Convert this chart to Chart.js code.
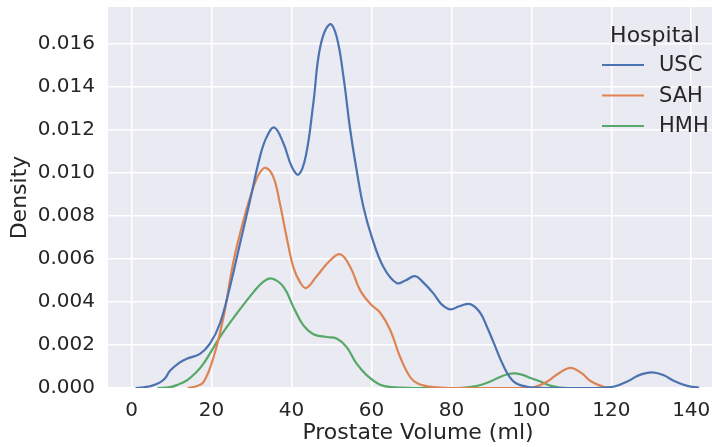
<!DOCTYPE html>
<html>
<head>
<meta charset="utf-8">
<script src="https://cdn.jsdelivr.net/npm/chart.js"></script>
<style>
  html, body { margin: 0; padding: 0; background: #fff; overflow: hidden; }
  #chart-wrapper { width: 728px; height: 447px; }
</style>
</head>
<body>
<div id="chart-wrapper">
  <canvas id="my-chart" width="728" height="447"></canvas>
</div>
<script>
// series: [volume (ml), density]
const hospitals = ['USC', 'SAH', 'HMH'];
const colors = ['#4c72b0', '#dd8452', '#55a868'];

const usc = [
  [1, 0], [3, 0.00003], [5, 0.0001], [7, 0.00025], [8.5, 0.00048], [9.6, 0.0008],
  [12, 0.00118], [13.8, 0.00136], [17.1, 0.00159], [19.6, 0.00206], [22.1, 0.003],
  [24.6, 0.0047], [27.1, 0.0067], [29.6, 0.0087], [32.1, 0.01075], [33.8, 0.01168],
  [35.7, 0.01212], [38, 0.01137], [40.1, 0.01028], [41.8, 0.00993], [43.6, 0.0108],
  [45.5, 0.0133], [47.2, 0.01587], [49.6, 0.01692], [51.3, 0.01634], [53, 0.01448],
  [54.7, 0.012], [56.3, 0.01013], [58, 0.00842], [60.1, 0.00702], [63, 0.00563],
  [66.3, 0.00488], [68.5, 0.005], [70.9, 0.0052], [73, 0.0049], [75.5, 0.0044],
  [77.5, 0.0039], [79.7, 0.00366], [82, 0.0038], [84.7, 0.0039], [87.2, 0.0035],
  [89, 0.0028], [90.6, 0.0021], [93.1, 0.001], [95.6, 0.0003], [98.9, 0.00006],
  [102, 0.00001], [108, 0], [116, 0], [118.5, 0.00002], [121, 0.00008],
  [124, 0.0003], [127, 0.0006], [130.2, 0.00073], [133, 0.0006], [136, 0.0003],
  [139, 0.0001], [142, 0.00001]
];

const sah = [
  [14, 0], [16, 0.00007], [18, 0.00027], [20.5, 0.00143], [23, 0.0033], [25.5, 0.0059],
  [28, 0.0078], [30.5, 0.00935], [32, 0.01], [33.6, 0.01024], [35.5, 0.0098],
  [37.1, 0.00858], [38.8, 0.007], [40.5, 0.0056], [42.2, 0.0049], [43.7, 0.00465],
  [46.3, 0.0052], [49.7, 0.00594], [52.2, 0.00622], [54.7, 0.00563], [57.2, 0.00454],
  [59.7, 0.00392], [62.2, 0.0035], [64.7, 0.0027], [67.2, 0.00143], [69.7, 0.0005],
  [71.7, 0.0002], [75.5, 0.00004], [80, 0], [98, 0], [101, 0.00005], [104, 0.0003],
  [107, 0.0007], [109.8, 0.00094], [112.5, 0.0007], [115, 0.0003], [118, 0.00006],
  [120, 0]
];

const hmh = [
  [6.5, 0], [9.6, 0.00004], [11.5, 0.00015], [13.8, 0.00035], [16, 0.0007],
  [18, 0.00113], [22.1, 0.00237], [26.3, 0.00346], [30.5, 0.00446], [33, 0.00495],
  [35.1, 0.00509], [38, 0.0047], [40.5, 0.00376], [43, 0.00291], [45.5, 0.0025],
  [48.8, 0.00237], [51.3, 0.0023], [53.8, 0.0019], [56.3, 0.00113], [58.8, 0.0006],
  [62.2, 0.00015], [65, 0.00004], [70, 0], [82, 0], [85, 0.00005], [87.5, 0.00015],
  [89.7, 0.0003], [92, 0.0005], [94, 0.00064], [96, 0.00068], [98, 0.0006],
  [100, 0.00045], [102.3, 0.0003], [104.5, 0.00012], [107.3, 0.00002], [109, 0]
];

const xTicks = [0, 20, 40, 60, 80, 100, 120, 140];
const yTicks = [0, 0.002, 0.004, 0.006, 0.008, 0.010, 0.012, 0.014, 0.016];

const textColor = '#262626';
const font = 'DejaVu Sans';

function toPoints(arr) {
  return arr.map(function(p) { return {x: p[0], y: p[1]}; });
}

// seaborn style grey background behind the plot
const bgPlugin = {
  id: 'bg',
  beforeDraw: function(chart) {
    const a = chart.chartArea;
    const c = chart.ctx;
    c.save();
    c.fillStyle = '#eaeaf2';
    c.fillRect(a.left, a.top, a.right - a.left, a.bottom - a.top);
    c.restore();
  }
};

// legend drawn inside the plot, top right
const legendPlugin = {
  id: 'insideLegend',
  afterDraw: function(chart) {
    const c = chart.ctx;
    c.save();
    c.fillStyle = textColor;
    c.textBaseline = 'alphabetic';
    c.textAlign = 'center';
    c.font = '22px "' + font + '"';
    c.fillText('Hospital', 655, 42);
    c.textAlign = 'left';
    c.textBaseline = 'middle';
    c.font = '21px "' + font + '"';
    chart.data.datasets.forEach(function(ds, i) {
      const y = 65 + i * 30.5;
      c.strokeStyle = ds.borderColor;
      c.lineWidth = 2.2;
      c.beginPath();
      c.moveTo(602, y);
      c.lineTo(644, y);
      c.stroke();
      c.fillText(ds.label, 659, y + 1);
    });
    c.restore();
  }
};

function keepTicks(list) {
  return function(scale) {
    scale.ticks = list.map(function(v) { return {value: v}; });
  };
}

const ctx = document.getElementById('my-chart');
const chart = new Chart(ctx, {
  type: 'line',
  data: {
    datasets: [usc, sah, hmh].map(function(s, i) {
      return {
        label: hospitals[i],
        data: toPoints(s),
        borderColor: colors[i],
        backgroundColor: colors[i],
        borderWidth: 2.2,
        pointRadius: 0,
        tension: 0.4,
        fill: false,
        clip: 0
      };
    })
  },
  options: {
    responsive: false,
    devicePixelRatio: 1,
    animation: false,
    layout: { padding: { top: 7, left: 0, right: 0, bottom: 0 } },
    plugins: {
      legend: { display: false },
      tooltip: { enabled: false }
    },
    scales: {
      x: {
        type: 'linear',
        min: -5.9,
        max: 149.2,
        afterFit: function(scale) {
          scale.height = 59;
          scale.paddingLeft = 0;
          scale.paddingRight = 0;
        },
        afterBuildTicks: keepTicks(xTicks),
        border: { display: false },
        grid: { color: '#ffffff', lineWidth: 1.5, drawTicks: false },
        ticks: {
          padding: 11,
          color: textColor,
          font: { family: font, size: 20 },
          callback: function(v) { return String(v); }
        },
        title: {
          display: true,
          text: 'Prostate Volume (ml)',
          color: textColor,
          font: { family: font, size: 22 },
          padding: { top: 0, bottom: 1 }
        }
      },
      y: {
        type: 'linear',
        min: 0,
        max: 0.01772,
        afterFit: function(scale) {
          scale.width = 108;
          scale.paddingTop = 0;
          scale.paddingBottom = 0;
        },
        afterBuildTicks: keepTicks(yTicks),
        border: { display: false },
        grid: { color: '#ffffff', lineWidth: 1.5, drawTicks: false },
        ticks: {
          padding: 13,
          color: textColor,
          font: { family: font, size: 20 },
          callback: function(v) { return v.toFixed(3); }
        },
        title: {
          display: true,
          text: 'Density',
          color: textColor,
          font: { family: font, size: 22 },
          padding: { top: 7, bottom: 0 }
        }
      }
    }
  },
  plugins: [bgPlugin, legendPlugin]
});
</script>
</body>
</html>
